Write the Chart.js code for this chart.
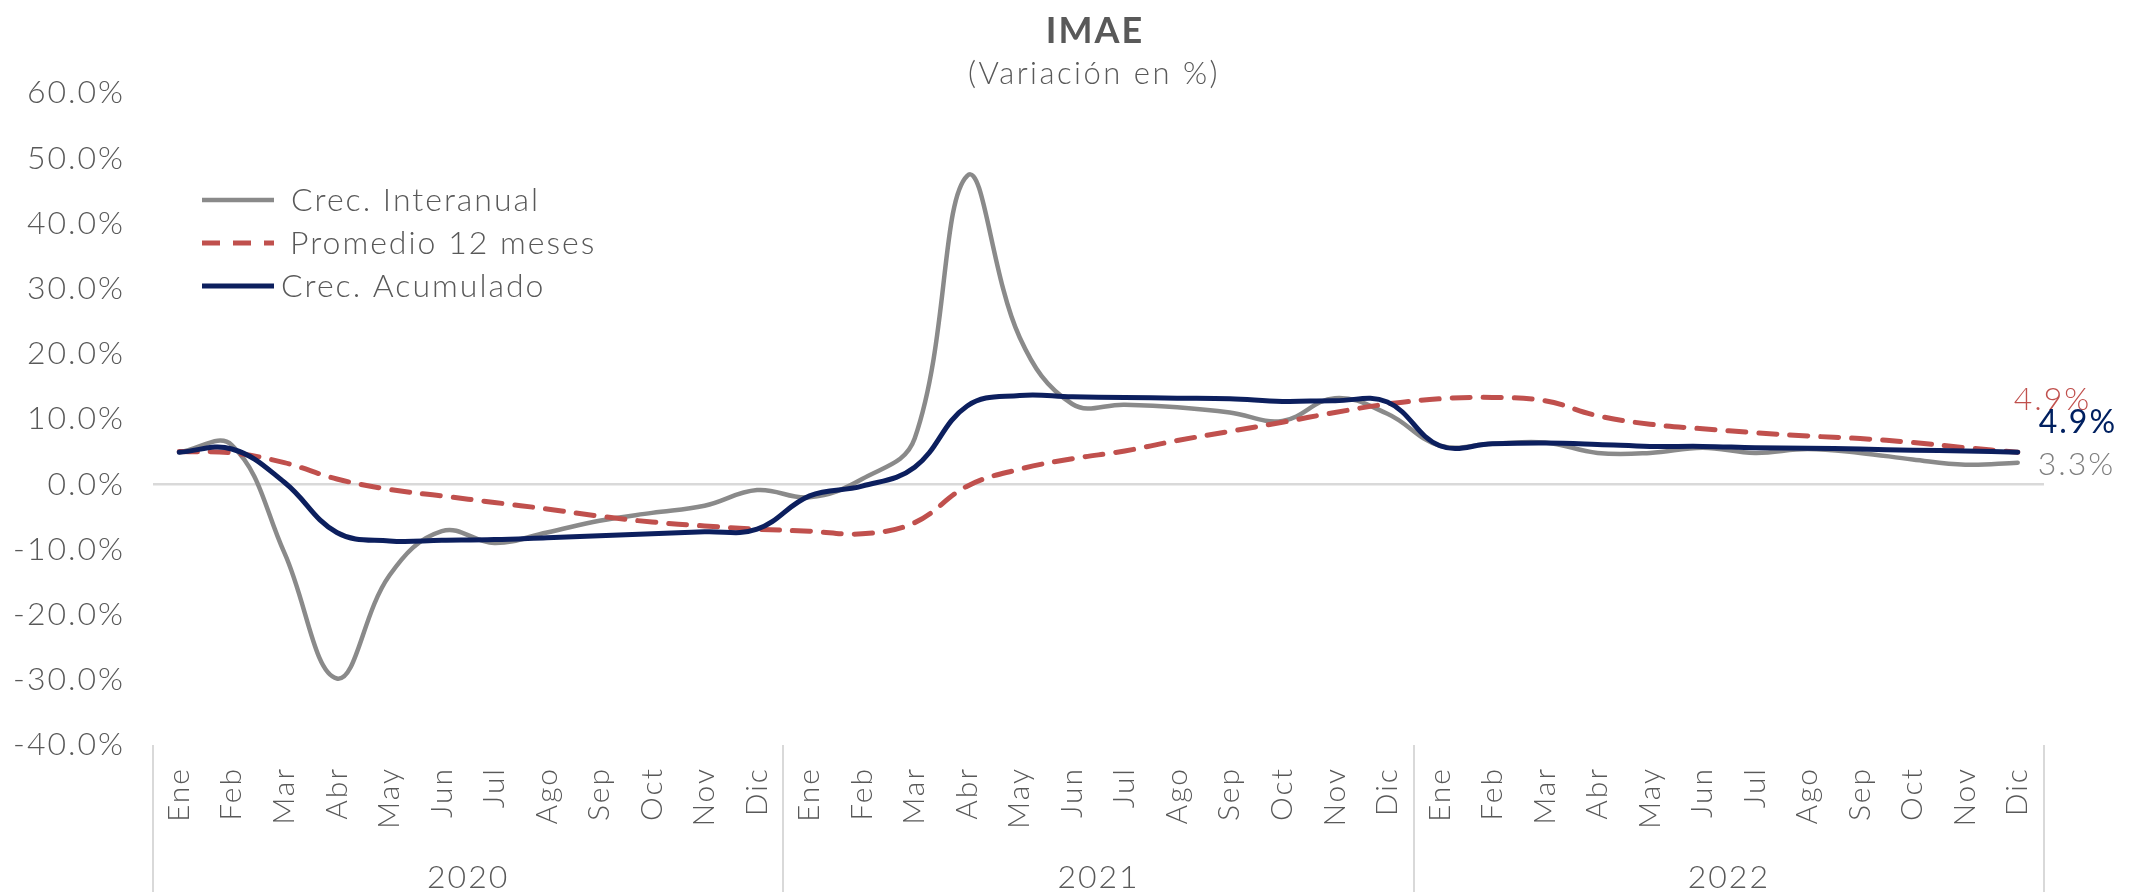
<!DOCTYPE html>
<html>
<head>
<meta charset="utf-8">
<script src="https://cdn.jsdelivr.net/npm/chart.js@4.4.1/dist/chart.umd.min.js"></script>
<style>
  html, body { margin: 0; background: #fff; }
  canvas { display: block; }
</style>
</head>
<body>
<canvas id="chart" width="2141" height="892"></canvas>
<script>
const months = ["Ene", "Feb", "Mar", "Abr", "May", "Jun", "Jul", "Ago", "Sep", "Oct", "Nov", "Dic"]
const years = ["2020", "2021", "2022"]
const yTicks = [-40, -30, -20, -10, 0, 10, 20, 30, 40, 50, 60]

const interanual = [
  4.9, 6.0, -10.5, -29.8, -14.0, -7.2, -9.0, -7.4, -5.6, -4.4, -3.3, -0.9,
  -2.0, 0.8, 7.0, 47.3, 22.5, 12.3, 12.2, 11.8, 11.0, 9.7, 13.2, 10.8,
  5.9, 6.2, 6.4, 4.8, 4.8, 5.6, 4.8, 5.4, 4.8, 3.8, 3.0, 3.3
]
const promedio = [
  5.0, 4.8, 3.3, 0.8, -0.8, -1.8, -2.8, -3.8, -4.9, -5.8, -6.4, -6.9,
  -7.2, -7.6, -5.9, -0.3, 2.3, 3.9, 5.1, 6.7, 8.1, 9.5, 11.0, 12.3,
  13.1, 13.3, 12.8, 10.5, 9.2, 8.5, 7.9, 7.4, 7.0, 6.4, 5.6, 4.9
]
const acumulado = [
  4.9, 5.4, 0.3, -7.4, -8.7, -8.6, -8.5, -8.2, -7.9, -7.6, -7.3, -6.9,
  -1.8, -0.3, 2.6, 12.0, 13.6, 13.4, 13.3, 13.2, 13.1, 12.7, 12.8, 12.6,
  5.9, 6.2, 6.3, 6.1, 5.8, 5.8, 5.6, 5.5, 5.4, 5.2, 5.1, 4.9
]

const labels = years.flatMap(() => months)
const textColor = "#595959"
const fontFamily = "Lato, 'Open Sans', sans-serif"
const spacingPx = "2px"
const pct = v => v.toFixed(1) + "%"

// letter spacing for all canvas text (reference font is wide)
const spacing = {
  id: "spacing",
  beforeUpdate(chart) { chart.ctx.letterSpacing = spacingPx },
  beforeDraw(chart) { chart.ctx.letterSpacing = spacingPx }
}

const header = {
  id: "header",
  afterDraw(chart) {
    const ctx = chart.ctx
    ctx.save()
    ctx.textAlign = "center"
    ctx.textBaseline = "middle"
    ctx.fillStyle = textColor
    ctx.letterSpacing = "2px"
    ctx.font = `bold 36px ${fontFamily}`
    ctx.fillText("IMAE", 1095, 31)
    ctx.letterSpacing = "2.5px"
    ctx.font = `300 31px ${fontFamily}`
    ctx.fillText("(Variación en %)", 1094, 74)
    ctx.restore()
  }
}

const sideLegend = {
  id: "sideLegend",
  afterDraw(chart) {
    const ctx = chart.ctx
    const rows = [200, 243, 286]
    const textX = [291, 290, 281]
    ctx.save()
    ctx.letterSpacing = spacingPx
    ctx.font = `300 32px ${fontFamily}`
    ctx.textBaseline = "middle"
    chart.data.datasets.forEach((ds, i) => {
      const y = rows[i]
      ctx.beginPath()
      ctx.strokeStyle = ds.borderColor
      ctx.lineWidth = ds.borderWidth
      ctx.setLineDash(ds.borderDash || [])
      ctx.moveTo(202, y)
      ctx.lineTo(274, y)
      ctx.stroke()
      ctx.setLineDash([])
      ctx.fillStyle = textColor
      ctx.fillText(ds.label, textX[i], y + 1)
    })
    ctx.restore()
  }
}

const endLabels = {
  id: "endLabels",
  afterDatasetsDraw(chart) {
    const ctx = chart.ctx
    const offsets = [[20, 2, 300], [-4, -53, 300], [21, -30, 400]]
    const colors = ["#7f7f7f", "#c0504d", "#002060"]
    ctx.save()
    ctx.letterSpacing = spacingPx
    ctx.textAlign = "left"
    ctx.textBaseline = "middle"
    chart.data.datasets.forEach((ds, i) => {
      const meta = chart.getDatasetMeta(i)
      const last = meta.data[meta.data.length - 1]
      const [dx, dy, w] = offsets[i]
      ctx.font = `${w} 32px ${fontFamily}`
      ctx.fillStyle = colors[i]
      ctx.fillText(pct(ds.data[ds.data.length - 1]), last.x + dx, last.y + dy)
    })
    ctx.restore()
  }
}

new Chart(document.getElementById("chart"), {
  type: "line",
  data: {
    labels: labels,
    datasets: [
      { label: "Crec. Interanual", data: interanual, borderColor: "#8a8a8a", borderWidth: 4.5, order: 2 },
      { label: "Promedio 12 meses", data: promedio, borderColor: "#c0504d", borderWidth: 5, borderDash: [18, 13], order: 1 },
      { label: "Crec. Acumulado", data: acumulado, borderColor: "#0c1f5e", borderWidth: 5, order: 0 }
    ]
  },
  options: {
    responsive: false,
    animation: false,
    devicePixelRatio: 1,
    layout: { padding: { top: 93, right: 97, bottom: 0, left: 0 } },
    elements: {
      point: { radius: 0, hoverRadius: 0 },
      line: { tension: 0.4, fill: false, borderCapStyle: "round" }
    },
    plugins: {
      legend: { display: false },
      tooltip: { enabled: false }
    },
    scales: {
      x: {
        type: "category",
        position: "bottom",
        weight: 0,
        offset: true,
        border: { display: false },
        grid: {
          offset: true,
          drawOnChartArea: false,
          drawTicks: true,
          tickLength: 147,
          lineWidth: 2,
          color: c => (c.type !== "tick" || c.index % 12 === 0) ? "#d9d9d9" : "rgba(0,0,0,0)"
        },
        ticks: {
          autoSkip: false,
          minRotation: 90,
          maxRotation: 90,
          padding: -125,
          color: textColor,
          font: { family: fontFamily, size: 30, weight: 300 }
        },
        afterFit: s => { s.height = 112 }
      },
      yr: {
        type: "category",
        labels: years,
        position: "bottom",
        weight: 1,
        offset: true,
        border: { display: false },
        grid: { display: false },
        ticks: {
          maxRotation: 0,
          padding: -7,
          color: textColor,
          font: { family: fontFamily, size: 32, weight: 300 }
        },
        afterFit: s => { s.height = 35 }
      },
      y: {
        min: yTicks[0],
        max: yTicks[yTicks.length - 1],
        border: { display: false },
        grid: {
          drawTicks: false,
          lineWidth: 2.5,
          color: c => (c.tick && c.tick.value === 0) ? "#d9d9d9" : "rgba(0,0,0,0)"
        },
        afterBuildTicks: s => { s.ticks = yTicks.map(v => ({ value: v })) },
        ticks: {
          padding: 28,
          color: textColor,
          font: { family: fontFamily, size: 32, weight: 300 },
          callback: v => pct(v)
        },
        afterFit: s => { s.width = 153 }
      }
    }
  },
  plugins: [spacing, header, sideLegend, endLabels]
})
</script>
</body>
</html>
